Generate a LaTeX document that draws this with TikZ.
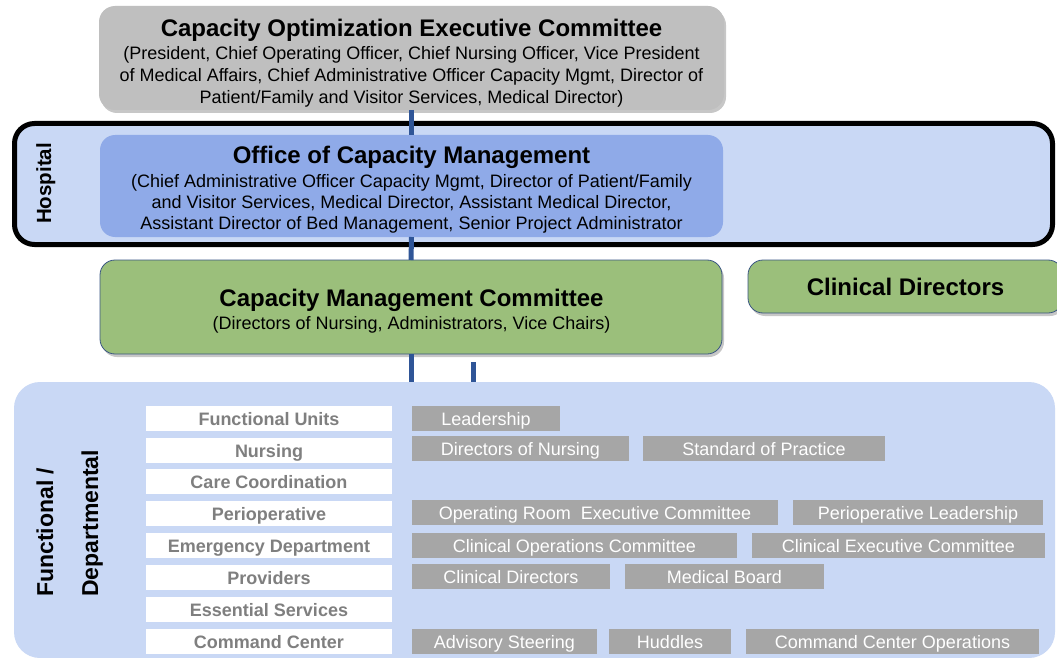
\documentclass[tikz,border=0pt]{standalone}
\usepackage{fontspec}
\setmainfont{Liberation Sans}
\usetikzlibrary{shadows}

\definecolor{execgray}{HTML}{BFBFBF}
\definecolor{paleblue}{HTML}{C9D8F5}
\definecolor{officeblue}{HTML}{8FAAE8}
\definecolor{cmgreen}{HTML}{9BBF7B}
\definecolor{linkblue}{HTML}{2F5597}
\definecolor{tilegray}{HTML}{A6A6A6}
\definecolor{unitgray}{HTML}{7F7F7F}
\definecolor{rimblue}{HTML}{3A5683}

\newcommand{\headsize}{\fontsize{24}{24}\selectfont\bfseries}

\tikzset{
  softshadow/.style={drop shadow={shadow xshift=2pt, shadow yshift=-3pt, opacity=0.22, fill=black}},
  panelbox/.style={rectangle, anchor=north west, inner sep=0pt, outer sep=0pt},
  execbox/.style={panelbox, fill=execgray, rounded corners=16pt, softshadow},
  officebox/.style={panelbox, fill=officeblue, rounded corners=15pt},
  greenbox/.style={panelbox, fill=cmgreen, draw=rimblue, line width=0.8pt, rounded corners=15pt, softshadow},
  hospbox/.style={panelbox, fill=paleblue, draw=black, line width=5pt, rounded corners=20pt},
  funcpanel/.style={panelbox, fill=paleblue, rounded corners=26pt},
  boxtext/.style={anchor=north, inner sep=0pt, align=center, font=\fontsize{18}{22}\selectfont},
  sidetitle/.style={rotate=90, inner sep=0pt, font=\bfseries\fontsize{23}{23}\selectfont},
  unitbox/.style={panelbox, fill=white, minimum width=246pt, minimum height=25pt,
    text height=13pt, text depth=0pt, text=unitgray, font=\bfseries\fontsize{18}{18}\selectfont},
  tilebox/.style={panelbox, fill=tilegray, minimum height=25pt,
    text height=13pt, text depth=0pt, text=white, font=\fontsize{18}{18}\selectfont},
  link/.style={draw=linkblue, line width=5pt},
}

\begin{document}
\begin{tikzpicture}[x=1pt,y=-1pt]
\fill[white] (0,0) rectangle (1057,658);
\useasboundingbox (0,0) rectangle (1057,658);

% hospital band with its thick frame
\node[hospbox, minimum width=1038pt, minimum height=121pt] (hospital) at (14.5,123.5) {};
\node[sidetitle, font=\bfseries\fontsize{20.5}{20.5}\selectfont, anchor=base] (hosplabel) at (51,183.5) {Hospital};

% executive committee
\node[execbox, minimum width=625pt, minimum height=104pt] (coexec) at (99,6) {};
\node[boxtext] (coexectext) at (411.5,18.5)
  {{\headsize Capacity Optimization Executive Committee}\\[1pt]
   (President, Chief Operating Officer, Chief Nursing Officer, Vice President\\
   of Medical Affairs, Chief Administrative Officer Capacity Mgmt, Director of\\
   Patient/Family and Visitor Services, Medical Director)};

% office of capacity management
\node[officebox, minimum width=623pt, minimum height=102pt] (office) at (100,135) {};
\node[boxtext, font=\fontsize{18}{21}\selectfont] (officetext) at (411.5,145.5)
  {{\headsize Office of Capacity Management}\\[3pt]
   (Chief Administrative Officer Capacity Mgmt, Director of Patient/Family\\
   and Visitor Services, Medical Director, Assistant Medical Director,\\
   Assistant Director of Bed Management, Senior Project Administrator};

% capacity management committee and clinical directors
\node[greenbox, minimum width=622pt, minimum height=94pt] (cmc) at (100,260) {};
\node[boxtext] (cmctext) at (411.5,288.5)
  {{\headsize Capacity Management Committee}\\[1pt]
   (Directors of Nursing, Administrators, Vice Chairs)};
\node[greenbox, minimum width=315pt, minimum height=53pt, text height=17pt, text depth=0pt,
      font=\headsize] (clindir) at (748,260) {Clinical Directors};

% functional / departmental panel
\node[funcpanel, minimum width=1041pt, minimum height=276pt] (funcs) at (14,382) {};
\node[sidetitle, anchor=base west] (funclabel) at (53,597) {Functional /};
\node[sidetitle, anchor=base west] (deptlabel) at (98,597) {Departmental};

% functional units column
\node[unitbox] (u1) at (146,406) {Functional Units};
\node[unitbox] (u2) at (146,438) {Nursing};
\node[unitbox] (u3) at (146,469) {Care Coordination};
\node[unitbox] (u4) at (146,501) {Perioperative};
\node[unitbox] (u5) at (146,533) {Emergency Department};
\node[unitbox] (u6) at (146,565) {Providers};
\node[unitbox] (u7) at (146,597) {Essential Services};
\node[unitbox] (u8) at (146,629) {Command Center};

% groups belonging to each unit
\node[tilebox, minimum width=148pt] (t11) at (412,406) {Leadership};
\node[tilebox, minimum width=217pt] (t21) at (412,436) {Directors of Nursing};
\node[tilebox, minimum width=242pt] (t22) at (643,436) {Standard of Practice};
\node[tilebox, minimum width=366pt] (t41) at (412,500) {Operating Room\ \ Executive Committee};
\node[tilebox, minimum width=250pt] (t42) at (793,500) {Perioperative Leadership};
\node[tilebox, minimum width=325pt] (t51) at (412,533) {Clinical Operations Committee};
\node[tilebox, minimum width=293pt] (t52) at (752,533) {Clinical Executive Committee};
\node[tilebox, minimum width=198pt] (t61) at (412,564) {Clinical Directors};
\node[tilebox, minimum width=199pt] (t62) at (625,564) {Medical Board};
\node[tilebox, minimum width=185pt] (t81) at (412,629) {Advisory Steering};
\node[tilebox, minimum width=122pt] (t82) at (609,629) {Huddles};
\node[tilebox, minimum width=293pt] (t83) at (746,629) {Command Center Operations};

% reporting lines
\draw[link] (coexec.south) -- (office.north);
\draw[link] (office.south) -- (cmc.north);
\draw[link] (cmc.south) -- (cmc.south |- funcs.north);
\coordinate (stub) at (473,362);
\draw[link] (stub) -- (stub |- funcs.north);
\end{tikzpicture}
\end{document}
